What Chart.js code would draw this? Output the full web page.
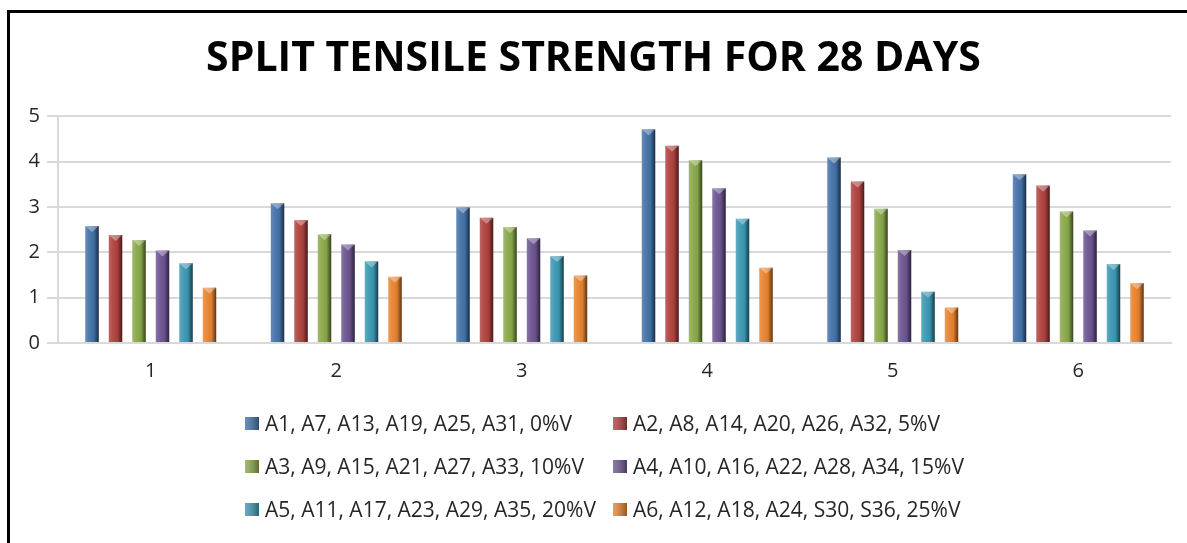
<!DOCTYPE html>
<html>
<head>
<meta charset="utf-8">
<script src="https://cdn.jsdelivr.net/npm/chart.js@4.4.0/dist/chart.umd.min.js"></script>
<style>
    html, body { margin: 0; padding: 0; background: #fff; }
    #wrap { position: absolute; left: 0; top: 0; width: 1187px; height: 543px; }
    #frame {
        position: absolute; left: 7px; top: 10px; width: 1180px; height: 533px;
        border-left: 3px solid #000; border-top: 3px solid #000; pointer-events: none;
    }
</style>
</head>
<body>
<div id="wrap">
    <canvas id="strengthChart" width="1187" height="543"></canvas>
</div>
<div id="frame"></div>
<script>
const categories = ['1', '2', '3', '4', '5', '6'];
const seriesLabels = [
    'A1, A7, A13, A19, A25, A31, 0%V',
    'A2, A8, A14, A20, A26, A32, 5%V',
    'A3, A9, A15, A21, A27, A33, 10%V',
    'A4, A10, A16, A22, A28, A34, 15%V',
    'A5, A11, A17, A23, A29, A35, 20%V',
    'A6, A12, A18, A24, S30, S36, 25%V'
];
const v0 = [2.58, 3.08, 2.99, 4.71, 4.09, 3.72];
const v5 = [2.38, 2.71, 2.76, 4.35, 3.56, 3.47];
const v10 = [2.27, 2.40, 2.56, 4.03, 2.96, 2.90];
const v15 = [2.04, 2.17, 2.31, 3.41, 2.05, 2.48];
const v20 = [1.76, 1.80, 1.92, 2.74, 1.13, 1.74];
const v25 = [1.22, 1.46, 1.49, 1.66, 0.78, 1.32];
const yTicks = [0, 1, 2, 3, 4, 5];
const colors = ['#4472a8', '#b0423f', '#8aa94a', '#6d5591', '#3b98b3', '#e8832f'];

// bevel shading over each bar, using the bar geometry chart.js computed
const bevelPlugin = {
    id: 'bevel',
    afterDatasetsDraw(chart) {
        const ctx = chart.ctx;
        chart.data.datasets.forEach((ds, i) => {
            chart.getDatasetMeta(i).data.forEach(bar => {
                const left = bar.x - bar.width / 2;
                const right = bar.x + bar.width / 2;
                const top = bar.y;
                const h = bar.base - bar.y;
                const g = ctx.createLinearGradient(left, 0, right, 0);
                g.addColorStop(0, 'rgba(255,255,255,0.18)');
                g.addColorStop(0.3, 'rgba(255,255,255,0.05)');
                g.addColorStop(0.65, 'rgba(0,0,0,0.05)');
                g.addColorStop(1, 'rgba(0,0,0,0.6)');
                ctx.save();
                ctx.fillStyle = g;
                ctx.fillRect(left, top, bar.width, h);
                ctx.fillStyle = 'rgba(255,255,255,0.35)';
                ctx.beginPath();
                ctx.moveTo(left, top);
                ctx.lineTo(right, top);
                ctx.lineTo(bar.x, top + bar.width * 0.45);
                ctx.closePath();
                ctx.fill();
                ctx.restore();
            });
        });
    }
};

// two column legend like the excel one
const legendPlugin = {
    id: 'gridLegend',
    afterDraw(chart) {
        const ctx = chart.ctx;
        const colX = [245, 613];
        const rowY = [424, 467, 510];
        ctx.save();
        ctx.font = '21px "Open Sans"';
        ctx.textBaseline = 'middle';
        chart.data.datasets.forEach((ds, i) => {
            const x = colX[i % 2];
            const y = rowY[Math.floor(i / 2)];
            ctx.fillStyle = ds.backgroundColor;
            ctx.fillRect(x, y - 7, 14, 13);
            const g = ctx.createLinearGradient(x, 0, x + 14, 0);
            g.addColorStop(0, 'rgba(255,255,255,0.2)');
            g.addColorStop(1, 'rgba(0,0,0,0.35)');
            ctx.fillStyle = g;
            ctx.fillRect(x, y - 7, 14, 13);
            ctx.fillStyle = '#262626';
            ctx.fillText(ds.label, x + 20, y + 1);
        });
        ctx.restore();
    }
};

function buildChart() {
    const ctx = document.getElementById('strengthChart').getContext('2d');
    const values = [v0, v5, v10, v15, v20, v25];

    const data = {
        labels: categories,
        datasets: values.map((vals, i) => ({
            label: seriesLabels[i],
            data: vals,
            backgroundColor: colors[i],
            borderWidth: 0,
            categoryPercentage: 0.76,
            barPercentage: 0.57
        }))
    };

    const config = {
        type: 'bar',
        data: data,
        options: {
            responsive: false,
            animation: false,
            layout: {
                padding: { left: 16, right: 16, top: 0, bottom: 155 }
            },
            plugins: {
                legend: { display: false },
                tooltip: { enabled: false },
                title: {
                    display: true,
                    text: 'SPLIT TENSILE STRENGTH FOR 28 DAYS',
                    color: '#000',
                    font: { family: '"Open Sans"', size: 41, weight: 'bold', lineHeight: 1.2 },
                    padding: { top: 35, bottom: 32 }
                }
            },
            scales: {
                x: {
                    grid: { display: false },
                    border: { display: true, color: '#d9d9d9', width: 2 },
                    ticks: {
                        color: '#262626',
                        font: { family: '"Open Sans"', size: 20 },
                        padding: 8
                    },
                    afterFit(scale) { scale.height = 45; }
                },
                y: {
                    min: 0,
                    max: 5,
                    afterBuildTicks(scale) {
                        scale.ticks = yTicks.map(v => ({ value: v }));
                    },
                    grid: { color: '#d9d9d9', lineWidth: 2, tickLength: 11 },
                    border: { display: true, color: '#d9d9d9', width: 2 },
                    ticks: {
                        color: '#262626',
                        font: { family: '"Open Sans"', size: 20 },
                        padding: 7
                    },
                    afterFit(scale) { scale.width = 42; }
                }
            }
        },
        plugins: [bevelPlugin, legendPlugin]
    };

    new Chart(ctx, config);
}

document.addEventListener('DOMContentLoaded', buildChart);
</script>
</body>
</html>
